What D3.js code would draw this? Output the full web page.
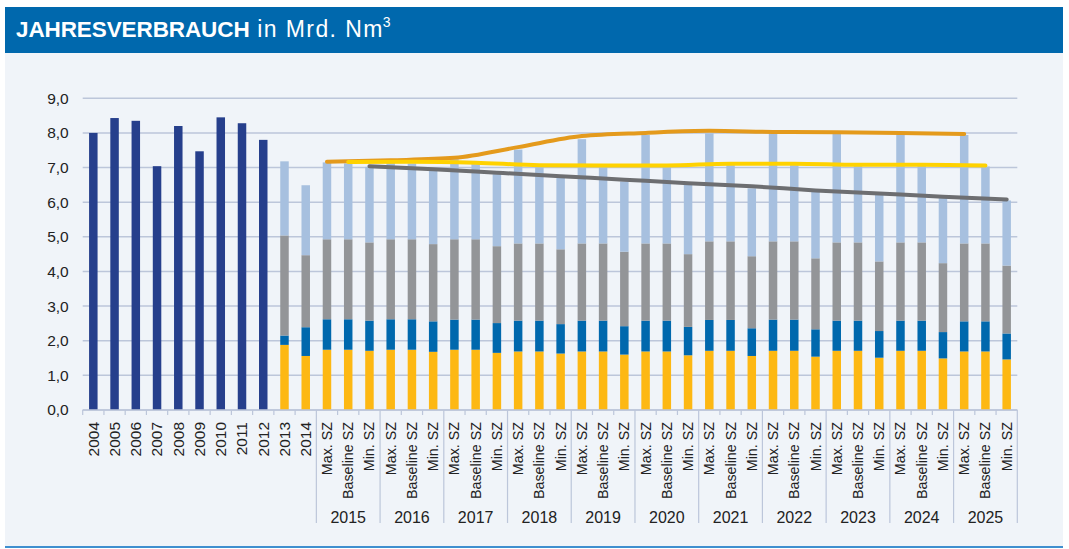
<!DOCTYPE html>
<html>
<head>
<meta charset="utf-8">
<script src="https://cdn.jsdelivr.net/npm/d3@7"></script>
<style>
  html, body { margin: 0; padding: 0; background: #fff; }
  svg { display: block; font-family: "Liberation Sans", Arial, sans-serif; }
</style>
</head>
<body>
<svg id="chart" width="1069" height="549"></svg>
<script>
// history (single bars)
const histYears = ['2004', '2005', '2006', '2007', '2008', '2009', '2010', '2011', '2012'];
const histValues = [8.00, 8.43, 8.35, 7.04, 8.20, 7.47, 8.45, 8.28, 7.80];

// stacked years without scenario, then scenario years
const stackYears = ['2013', '2014'];
const scenarioYears = ['2015', '2016', '2017', '2018', '2019', '2020', '2021', '2022', '2023', '2024', '2025'];
const scenarios = ['Max. SZ', 'Baseline SZ', 'Min. SZ'];

// stacked segments: 2013, 2014, then Max/Baseline/Min per year 2015..2025
const segYellow = [1.88, 1.56,
  1.74, 1.74, 1.71, 1.74, 1.74, 1.68, 1.74, 1.74, 1.65, 1.69, 1.69, 1.63,
  1.69, 1.69, 1.60, 1.69, 1.69, 1.58, 1.71, 1.71, 1.56, 1.71, 1.71, 1.54,
  1.71, 1.71, 1.51, 1.71, 1.71, 1.49, 1.69, 1.69, 1.46];
const segBlue = [0.27, 0.83,
  0.88, 0.88, 0.87, 0.88, 0.88, 0.88, 0.87, 0.87, 0.86, 0.89, 0.89, 0.85,
  0.89, 0.89, 0.82, 0.89, 0.89, 0.82, 0.89, 0.89, 0.80, 0.90, 0.90, 0.79,
  0.87, 0.87, 0.77, 0.87, 0.87, 0.76, 0.87, 0.87, 0.75];
const segGray = [2.89, 2.08,
  2.31, 2.31, 2.26, 2.31, 2.31, 2.23, 2.32, 2.32, 2.22, 2.23, 2.23, 2.16,
  2.23, 2.23, 2.15, 2.23, 2.23, 2.10, 2.27, 2.27, 2.08, 2.26, 2.26, 2.05,
  2.26, 2.26, 2.01, 2.26, 2.26, 1.99, 2.25, 2.25, 1.96];
const segLight = [2.14, 2.02,
  2.22, 2.19, 2.18, 2.24, 2.19, 2.12, 2.31, 2.17, 2.08, 2.71, 2.23, 2.06,
  3.01, 2.22, 2.03, 3.13, 2.22, 2.00, 3.12, 2.20, 1.96, 3.10, 2.20, 1.92,
  3.13, 2.21, 1.92, 3.11, 2.21, 1.88, 3.13, 2.22, 1.88];

// scenario totals (lines)
const maxLine = [7.17, 7.21, 7.28, 7.59, 7.91, 8.00, 8.06, 8.03, 8.02, 8.00, 7.97];
const baseLine = [7.16, 7.17, 7.14, 7.07, 7.06, 7.06, 7.11, 7.11, 7.08, 7.08, 7.06];
const minLine = [7.04, 6.95, 6.85, 6.75, 6.65, 6.55, 6.46, 6.34, 6.25, 6.16, 6.08];

const yTicks = [0, 1, 2, 3, 4, 5, 6, 7, 8, 9];

const C = {
  band: '#0068ad',
  panel: '#f0f4f9',
  grid: '#bcc6da',
  hist: '#263f8c',
  yellow: '#fdb813',
  blue: '#0068ad',
  gray: '#939598',
  light: '#a7c0df',
  lineMax: '#e49a1c',
  lineBase: '#ffd200',
  lineMin: '#6d6e71',
  text: '#222',
};

const svg = d3.select('#chart');

// frame
svg.append('rect').attr('x', 5).attr('y', 52).attr('width', 1058).attr('height', 494).attr('fill', C.panel);
svg.append('rect').attr('x', 5).attr('y', 7).attr('width', 1058).attr('height', 46).attr('fill', C.band);
svg.append('rect').attr('x', 5).attr('y', 546).attr('width', 1058).attr('height', 2).attr('fill', '#3f8fcf');

const title = svg.append('text').attr('x', 16).attr('y', 37).attr('fill', '#fff').attr('font-size', 22.5);
title.append('tspan').attr('font-weight', 700).attr('letter-spacing', -0.1).text('JAHRESVERBRAUCH');
title.append('tspan').attr('font-size', 23).attr('letter-spacing', 1.4).text(' in Mrd. Nm');
title.append('tspan').attr('font-size', 14).attr('dy', -10).attr('dx', -1).text('3');

// categories
const scenKey = (y, s) => `${y}|${s}`;
const stackCats = stackYears.concat(scenarioYears.flatMap((y) => scenarios.map((s) => scenKey(y, s))));
const categories = histYears.concat(stackCats);

const x = d3.scaleBand().domain(categories).range([82.7, 1017.3]).paddingInner(0.6).paddingOuter(0.3);
const y = d3.scaleLinear().domain([0, 9]).range([410, 98.3]);
const step = x.step();
const x0 = 82.7;

const locale = d3.formatLocale({ decimal: ',', thousands: '.', grouping: [3], currency: ['', '€'] });
const fmt = locale.format('.1f');

// grid
svg.append('g')
  .selectAll('line')
  .data(yTicks)
  .join('line')
  .attr('x1', x0).attr('x2', 1017.3)
  .attr('y1', (d) => y(d)).attr('y2', (d) => y(d))
  .attr('stroke', C.grid).attr('stroke-width', 1.5);

// y axis labels
const yAxis = svg.append('g')
  .attr('transform', `translate(${x0},0)`)
  .call(d3.axisLeft(y).tickValues(yTicks).tickFormat(fmt).tickSize(0).tickPadding(14));
yAxis.select('.domain').remove();
yAxis.selectAll('text').attr('font-size', 15.5).attr('fill', C.text).attr('font-family', '"Liberation Sans", Arial, sans-serif');

// history bars
svg.append('g')
  .selectAll('rect')
  .data(histYears.map((k, i) => ({ k, v: histValues[i] })))
  .join('rect')
  .attr('x', (d) => x(d.k))
  .attr('width', x.bandwidth())
  .attr('y', (d) => y(d.v))
  .attr('height', (d) => y(0) - y(d.v))
  .attr('fill', C.hist);

// stacked bars
const rows = stackCats.map((k, i) => ({ k, yellow: segYellow[i], blue: segBlue[i], gray: segGray[i], light: segLight[i] }));
const keys = ['yellow', 'blue', 'gray', 'light'];
const series = d3.stack().keys(keys)(rows);

svg.append('g')
  .selectAll('g')
  .data(series)
  .join('g')
  .attr('fill', (s) => C[s.key])
  .selectAll('rect')
  .data((s) => s)
  .join('rect')
  .attr('x', (d) => x(d.data.k))
  .attr('width', x.bandwidth())
  .attr('y', (d) => y(d[1]))
  .attr('height', (d) => y(d[0]) - y(d[1]));

// scenario lines
const lineGen = d3.line()
  .x((d) => x(d.k) + x.bandwidth() / 2)
  .y((d) => y(d.v))
  .curve(d3.curveMonotoneX);

[
  { vals: maxLine, s: scenarios[0], color: C.lineMax },
  { vals: baseLine, s: scenarios[1], color: C.lineBase },
  { vals: minLine, s: scenarios[2], color: C.lineMin },
].forEach((ln) => {
  const pts = scenarioYears.map((yr, i) => ({ k: scenKey(yr, ln.s), v: ln.vals[i] }));
  svg.append('path')
    .attr('d', lineGen(pts))
    .attr('fill', 'none')
    .attr('stroke', ln.color)
    .attr('stroke-width', 4)
    .attr('stroke-linecap', 'round');
});

// x axis
const xAxisG = svg.append('g');
xAxisG.append('line')
  .attr('x1', x0).attr('x2', 1017.3).attr('y1', 410).attr('y2', 410)
  .attr('stroke', C.grid).attr('stroke-width', 1.5);

const firstScen = histYears.length + stackYears.length;
xAxisG.selectAll('line.tick')
  .data(d3.range(categories.length + 1))
  .join('line')
  .attr('class', 'tick')
  .attr('x1', (k) => x0 + k * step).attr('x2', (k) => x0 + k * step)
  .attr('y1', 410)
  .attr('y2', (k) => (k >= firstScen && (k - firstScen) % 3 === 0 ? 523 : 415))
  .attr('stroke', C.grid).attr('stroke-width', 1.2);

xAxisG.selectAll('text.cat')
  .data(categories)
  .join('text')
  .attr('class', 'cat')
  .attr('transform', (k) => `translate(${x(k) + x.bandwidth() / 2},422) rotate(-90)`)
  .attr('text-anchor', 'end')
  .attr('dy', '0.35em')
  .attr('font-size', (k) => (k.includes('|') ? 14.3 : 15.5))
  .attr('fill', C.text)
  .text((k) => (k.includes('|') ? k.split('|')[1] : k));

xAxisG.selectAll('text.grp')
  .data(scenarioYears)
  .join('text')
  .attr('class', 'grp')
  .attr('x', (yr) => (x(scenKey(yr, scenarios[0])) + x(scenKey(yr, scenarios[2])) + x.bandwidth()) / 2)
  .attr('y', 523)
  .attr('text-anchor', 'middle')
  .attr('font-size', 16)
  .attr('fill', C.text)
  .text((yr) => yr);
</script>
</body>
</html>
